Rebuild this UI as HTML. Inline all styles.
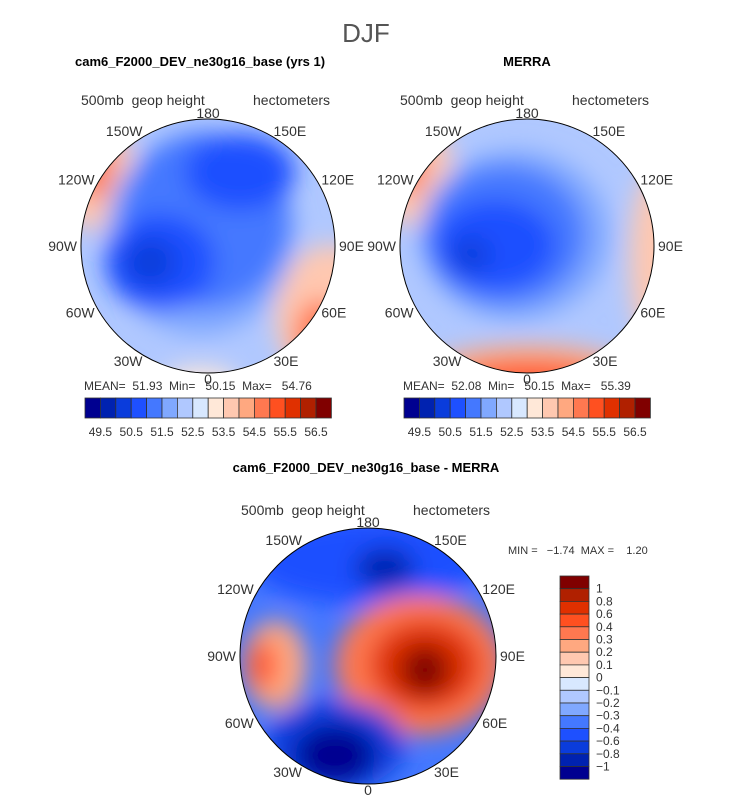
<!DOCTYPE html>
<html><head><meta charset="utf-8"><style>
body{margin:0;background:#fff}
svg text{font-family:"Liberation Sans",sans-serif;white-space:pre}
</style></head><body>
<svg id="fig" width="733" height="798" viewBox="0 0 733 798" xmlns="http://www.w3.org/2000/svg">
<defs>
<filter id="bl" x="-50%" y="-50%" width="200%" height="200%"><feGaussianBlur stdDeviation="12"/></filter>
<clipPath id="cL"><circle cx="208" cy="246" r="127"/></clipPath>
<clipPath id="cR"><circle cx="527" cy="246" r="127"/></clipPath>
<clipPath id="cB"><circle cx="368" cy="656" r="128"/></clipPath>
</defs>
<text x="366" y="42" font-size="26" text-anchor="middle" fill="#555" font-weight="100">DJF</text>
<text x="75" y="66" font-size="13" font-weight="bold">cam6_F2000_DEV_ne30g16_base (yrs 1)</text>
<text x="527" y="66" font-size="13" font-weight="bold" text-anchor="middle">MERRA</text>
<text x="366" y="472" font-size="13" font-weight="bold" text-anchor="middle">cam6_F2000_DEV_ne30g16_base - MERRA</text>

<g clip-path="url(#cL)">
<rect x="70" y="110" width="280" height="275" fill="#b0c8ff"/>
<g filter="url(#bl)">
<ellipse cx="95" cy="175" rx="40" ry="55" fill="#ffc8b0"/>
<ellipse cx="95" cy="165" rx="18" ry="35" fill="#ff7850"/>
<ellipse cx="330" cy="315" rx="55" ry="70" fill="#ffc8b0"/>
<ellipse cx="320" cy="335" rx="25" ry="35" fill="#ff7850"/>
<ellipse cx="200" cy="385" rx="40" ry="18" fill="#ffe8d8"/>
<ellipse cx="200" cy="235" rx="95" ry="100" fill="#80a8ff"/>
<ellipse cx="205" cy="220" rx="85" ry="88" fill="#4478ff"/>
<ellipse cx="240" cy="172" rx="55" ry="38" fill="#1e50ff"/>
<ellipse cx="160" cy="262" rx="55" ry="48" fill="#1e50ff"/>
<ellipse cx="150" cy="262" rx="26" ry="24" fill="#0a3cdc"/>
</g></g>
<circle cx="208" cy="246" r="127" fill="none" stroke="#000" stroke-width="1"/>
<g clip-path="url(#cR)">
<rect x="390" y="110" width="280" height="275" fill="#b0c8ff"/>
<g filter="url(#bl)">
<ellipse cx="412" cy="170" rx="40" ry="55" fill="#ffc8b0"/>
<ellipse cx="410" cy="165" rx="15" ry="30" fill="#ff7850"/>
<ellipse cx="530" cy="385" rx="120" ry="40" fill="#ffa880"/>
<ellipse cx="530" cy="378" rx="70" ry="15" fill="#ff5020"/>
<ellipse cx="655" cy="260" rx="25" ry="90" fill="#ffc8b0"/>
<ellipse cx="515" cy="235" rx="95" ry="85" fill="#80a8ff"/>
<ellipse cx="505" cy="235" rx="80" ry="70" fill="#4478ff"/>
<ellipse cx="495" cy="245" rx="60" ry="45" fill="#1e50ff"/>
<ellipse cx="470" cy="255" rx="20" ry="18" fill="#0a3cdc"/>
</g></g>
<circle cx="527" cy="246" r="127" fill="none" stroke="#000" stroke-width="1"/>
<g clip-path="url(#cB)">
<rect x="230" y="520" width="280" height="280" fill="#4478ff"/>
<g filter="url(#bl)">
<ellipse cx="368" cy="560" rx="120" ry="45" fill="#1e50ff"/>
<ellipse cx="385" cy="568" rx="30" ry="20" fill="#0022b0"/>
<ellipse cx="275" cy="665" rx="32" ry="45" fill="#ffa880"/>
<ellipse cx="262" cy="665" rx="14" ry="25" fill="#ff5020"/>
<ellipse cx="420" cy="665" rx="85" ry="70" fill="#ff7850"/>
<ellipse cx="425" cy="665" rx="55" ry="45" fill="#e03000"/>
<ellipse cx="425" cy="670" rx="25" ry="25" fill="#800000"/>
<ellipse cx="335" cy="745" rx="70" ry="45" fill="#0a3cdc"/>
<ellipse cx="335" cy="755" rx="40" ry="30" fill="#000090"/>
</g></g>
<circle cx="368" cy="656" r="128" fill="none" stroke="#000" stroke-width="1"/>
</svg>
<script>
const levels=['49.5','50.5','51.5','52.5','53.5','54.5','55.5','56.5'];
const palette=['#000090','#0022b0','#0a3cdc','#1e50ff','#4478ff','#80a8ff','#b0c8ff','#d8e8ff','#ffe8d8','#ffc8b0','#ffa880','#ff7850','#ff5020','#e03000','#b02000','#800000'];
const diffLevels=['1','0.8','0.6','0.4','0.3','0.2','0.1','0','\u22120.1','\u22120.2','\u22120.3','\u22120.4','\u22120.6','\u22120.8','\u22121'];
const leftStats=['51.93','50.15','54.76'];
const rightStats=['52.08','50.15','55.39'];
const diffStats=['\u22121.74','1.20'];
const lonLabels=['180','150E','120E','90E','60E','30E','0','30W','60W','90W','120W','150W'];
const NS='http://www.w3.org/2000/svg';
const svg=document.getElementById('fig');
function t(x,y,s,anchor,name,size){const e=document.createElementNS(NS,'text');e.setAttribute('x',x);e.setAttribute('y',y);e.textContent=s;e.setAttribute('font-size',size||13);e.setAttribute('fill','#333');if(anchor)e.setAttribute('text-anchor',anchor);


svg.appendChild(e);return e;}
function r(x,y,w,h,c,name){const e=document.createElementNS(NS,'rect');e.setAttribute('x',x);e.setAttribute('y',y);e.setAttribute('width',w);e.setAttribute('height',h);e.setAttribute('fill',c);e.setAttribute('stroke','#333');e.setAttribute('stroke-width','0.8');


svg.appendChild(e);}
function mapLabels(cx,cy,R){
  lonLabels.forEach((s,i)=>{const a=i*30*Math.PI/180;const sn=Math.sin(a),cs=Math.cos(a);
    const anchor=sn<-0.1?'end':(sn>0.1?'start':'middle');
    const x=cx+(R+4)*sn, y=cy-(R+6)*cs+5;
    t(x.toFixed(1),y.toFixed(1),s,anchor,'longitude-label',14);});
  t(cx-127,cy-141,'500mb  geop height','start','variable-label',14);
  t(cx+45,cy-141,'hectometers','start','units-label',14);
}
mapLabels(208,246,127);mapLabels(527,246,127);mapLabels(368,656,128);
function hbar(x0,stats){
  const w=15.4;
  palette.forEach((c,i)=>r(x0+i*w,398,w,20,c,'colorbar-box'));
  levels.forEach((s,i)=>t(x0+(2*i+1)*w,436,s,'middle','colorbar-label',12));
  t(x0-1,390,'MEAN=  '+stats[0]+'  Min=   '+stats[1]+'  Max=   '+stats[2],'start','stats-label',12);
}
hbar(85,leftStats);hbar(404,rightStats);
const h=12.7;
palette.slice().reverse().forEach((c,i)=>r(560,576+i*h,29,h,c,'diff-colorbar-box'));
diffLevels.forEach((s,i)=>t(596,576+(i+1)*h+4,s,'start','diff-colorbar-label',12));
t(508,554,'MIN =   '+diffStats[0]+'  MAX =    '+diffStats[1],'start','diff-stats-label',11);
</script>
</body></html>
